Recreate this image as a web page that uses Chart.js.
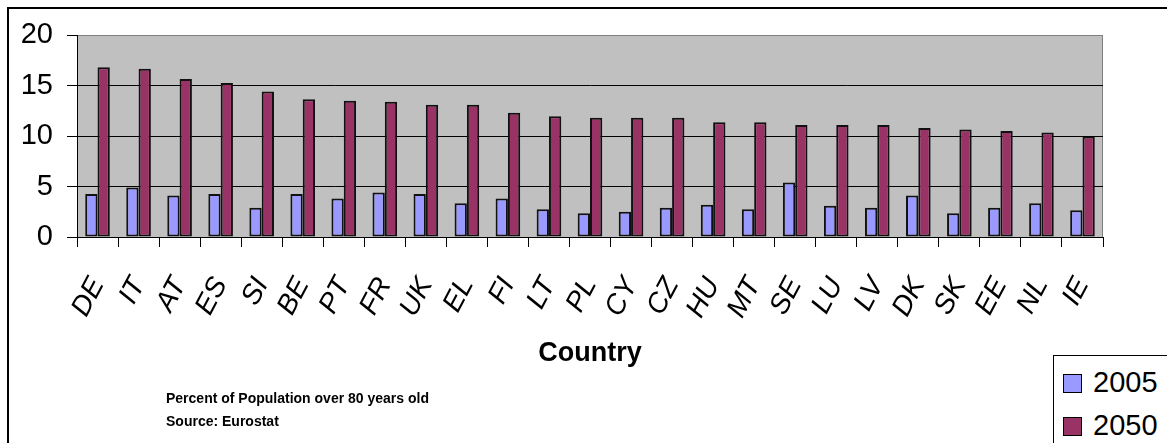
<!DOCTYPE html>
<html>
<head>
<meta charset="utf-8">
<script src="https://cdn.jsdelivr.net/npm/chart.js@4/dist/chart.umd.min.js"></script>
<style>
  html, body { margin: 0; padding: 0; background: #fff; }
  #wrap { position: relative; width: 1167px; height: 443px; overflow: hidden; font-family: 'Liberation Sans', Arial, sans-serif; }
  #frame { position: absolute; left: 7px; top: 7px; width: 1200px; height: 500px; border: 2px solid #000; box-sizing: border-box; }
  canvas { position: absolute; left: 0; top: 0; }
  #note { position: absolute; left: 166px; top: 387px; font-size: 14px; font-weight: bold; line-height: 23px; color: #000; }
  #legend { position: absolute; left: 1053px; top: 355px; width: 200px; height: 120px; border: 1px solid #000; background: #fff; }
  .item { position: absolute; left: 9px; font-size: 29px; line-height: 32px; color: #000; }
  .item span.box { display: inline-block; width: 17px; height: 17px; border: 1px solid #000; margin-right: 11px; vertical-align: -1px; }
</style>
</head>
<body>
<div id="wrap">
  <div id="frame"></div>
  <canvas id="chart" width="1167" height="443"></canvas>
  <div id="note">Percent of Population over 80 years old<br>Source: Eurostat</div>
  <div id="legend"></div>
</div>
<script>
const countries = ['DE', 'IT', 'AT', 'ES', 'SI', 'BE', 'PT', 'FR', 'UK', 'EL', 'FI', 'LT', 'PL',
  'CY', 'CZ', 'HU', 'MT', 'SE', 'LU', 'LV', 'DK', 'SK', 'EE', 'NL', 'IE'];
const share2005 = [4.25, 4.9, 4.1, 4.25, 2.9, 4.25, 3.8, 4.4, 4.25, 3.35, 3.8, 2.75, 2.35,
  2.5, 2.9, 3.2, 2.75, 5.4, 3.1, 2.9, 4.1, 2.35, 2.9, 3.35, 2.65];
const share2050 = [16.8, 16.65, 15.65, 15.25, 14.4, 13.65, 13.5, 13.4, 13.1, 13.1, 12.3, 11.95, 11.8,
  11.8, 11.8, 11.35, 11.35, 11.1, 11.1, 11.1, 10.8, 10.65, 10.5, 10.35, 9.95];
const seriesNames = ['2005', '2050'];
const yTicks = [0, 5, 10, 15, 20];

const colors = ['#9999FF', '#993366'];
const font = "'Liberation Sans', Arial, sans-serif";

// grey plot background like the old spreadsheet charts
const plotBackground = {
  id: 'plotBackground',
  beforeDraw(chart) {
    const { ctx, chartArea: a } = chart;
    ctx.save();
    ctx.fillStyle = '#C0C0C0';
    ctx.fillRect(a.left, a.top, a.right - a.left, a.bottom - a.top);
    ctx.strokeStyle = '#808080';
    ctx.lineWidth = 1;
    ctx.beginPath();
    ctx.moveTo(a.left, a.top + 0.5);
    ctx.lineTo(a.right - 0.5, a.top + 0.5);
    ctx.lineTo(a.right - 0.5, a.bottom);
    ctx.stroke();
    ctx.restore();
  },
};

new Chart(document.getElementById('chart'), {
  type: 'bar',
  data: {
    labels: countries,
    datasets: [
      { label: seriesNames[0], data: share2005, backgroundColor: colors[0] },
      { label: seriesNames[1], data: share2050, backgroundColor: colors[1] },
    ].map((d) => ({
      ...d,
      borderColor: '#111',
      borderWidth: 2,
      borderSkipped: false,
      categoryPercentage: 0.6,
      barPercentage: 1.0,
    })),
  },
  options: {
    responsive: false,
    animation: false,
    layout: { padding: { left: 0, top: 35, right: 64, bottom: 0 } },
    plugins: { legend: { display: false }, tooltip: { enabled: false } },
    scales: {
      x: {
        grid: { offset: true, drawOnChartArea: false, tickLength: 10, color: '#000' },
        border: { color: '#000', width: 1 },
        ticks: {
          color: '#000',
          font: { family: font, size: 28, style: 'italic' },
          minRotation: 62,
          maxRotation: 62,
          autoSkip: false,
          padding: 25,
        },
        title: {
          display: true,
          text: 'Country',
          color: '#000',
          font: { family: font, size: 27, weight: 'bold' },
          padding: { top: 4, bottom: 73 },
        },
        afterFit(scale) { scale.height = 206; },
      },
      y: {
        min: 0,
        max: 20,
        afterBuildTicks(scale) { scale.ticks = yTicks.map((v) => ({ value: v })); },
        grid: {
          color: (c) => (c.tick && c.tick.value === 20 ? '#808080' : '#000'),
          tickColor: '#000',
          tickLength: 10,
        },
        border: { color: '#000', width: 1 },
        ticks: { color: '#000', font: { family: font, size: 29 }, padding: 14 },
        afterFit(scale) { scale.width = 77; },
      },
    },
  },
  plugins: [plotBackground],
});

const legend = document.getElementById('legend');
seriesNames.forEach((name, i) => {
  const row = document.createElement('div');
  row.className = 'item';
  row.style.top = (i === 0 ? 10 : 53) + 'px';
  row.innerHTML = `<span class="box" style="background:${colors[i]}"></span>${name}`;
  legend.appendChild(row);
});
</script>
</body>
</html>
